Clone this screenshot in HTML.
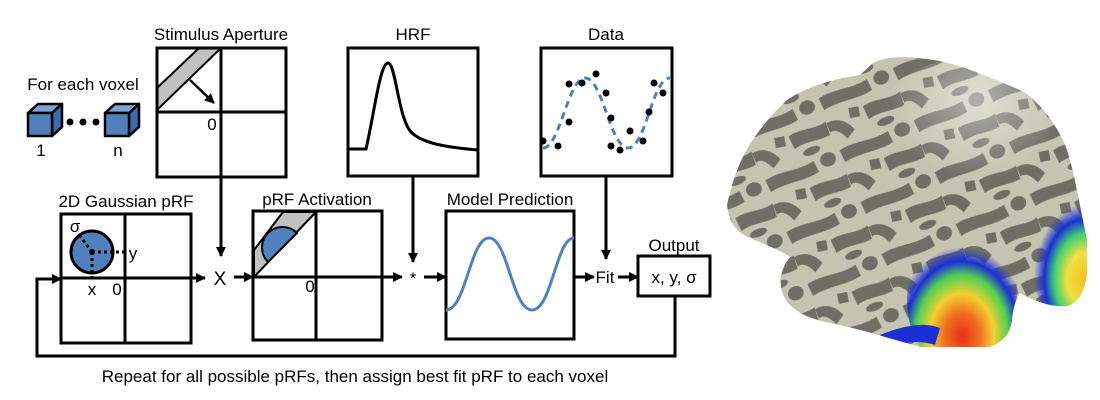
<!DOCTYPE html>
<html><head><meta charset="utf-8"><style>
html,body{margin:0;padding:0;background:#fff;}
svg{display:block;}
text{font-family:"Liberation Sans",sans-serif;fill:#000;}
</style></head><body>
<svg width="1100" height="400" viewBox="0 0 1100 400" xmlns="http://www.w3.org/2000/svg">
<defs>
<marker id="ah" markerWidth="10" markerHeight="10" refX="9" refY="5" orient="auto" markerUnits="userSpaceOnUse">
<path d="M0,0 L10,5 L0,10 z" fill="#000"/></marker>
<radialGradient id="hot" cx="0.5" cy="0.75" r="0.65">
<stop offset="0" stop-color="#e83018"/><stop offset="0.25" stop-color="#f07020"/><stop offset="0.45" stop-color="#f2d030"/><stop offset="0.65" stop-color="#50d050"/><stop offset="0.8" stop-color="#1a2fd8"/><stop offset="0.95" stop-color="#1a2fd8" stop-opacity="0"/></radialGradient>
<radialGradient id="hot2" cx="0.65" cy="0.65" r="0.6">
<stop offset="0" stop-color="#f5c020"/><stop offset="0.35" stop-color="#f0e040"/><stop offset="0.6" stop-color="#40d070"/><stop offset="0.8" stop-color="#1a2fd8"/><stop offset="1" stop-color="#1a2fd8" stop-opacity="0"/></radialGradient>
<pattern id="sulci" width="80" height="56" patternUnits="userSpaceOnUse" patternTransform="rotate(-22)">
<rect width="80" height="56" fill="#c4c4b0"/>
<path d="M2,6 C20,2 36,10 54,6 L55,18 C38,22 20,15 3,19Z" fill="#6f6f66"/>
<path d="M40,30 C54,26 68,34 80,30 L79,44 C66,46 54,40 41,44Z" fill="#6f6f66"/>
<path d="M0,32 C10,30 20,36 24,48 L14,54 C10,44 5,40 0,42Z" fill="#6f6f66"/>
<ellipse cx="68" cy="10" rx="8" ry="7" fill="#6f6f66"/>
<path d="M26,26 L36,28 L34,38 L24,36Z" fill="#6f6f66"/>
<ellipse cx="56" cy="52" rx="9" ry="4" fill="#6f6f66"/>
</pattern>
<radialGradient id="shine" cx="0.6" cy="0.25" r="0.5">
<stop offset="0" stop-color="#ffffff" stop-opacity="0.45"/><stop offset="1" stop-color="#ffffff" stop-opacity="0"/></radialGradient>
<clipPath id="brain"><path d="M727,205 C735,170 745,140 787,100 C805,88 827,80 860,75 L873,63 C885,57 900,55 933,60 C955,63 980,73 1020,90 C1040,100 1060,130 1067,150 C1075,175 1080,207 1087,240 L1087,273 C1085,290 1080,300 1070,305 C1060,308 1040,305 1020,293 C1015,300 1013,310 1012,320 C1010,335 1000,345 987,347 L920,347 C895,340 870,332 840,325 C815,320 803,317 790,305 C778,293 777,273 790,257 C780,250 770,247 755,240 C735,233 729,222 727,205 Z"/></clipPath>
</defs>

<g stroke="#000" stroke-width="3" fill="none">
<polygon points="157,88 199,48 221,48 157,110" fill="#c0c0c0" stroke="#000" stroke-width="2"/>
<rect x="157" y="48" width="129" height="129"/>
<line x1="221" y1="48" x2="221" y2="177"/><line x1="157" y1="112" x2="286" y2="112"/>
<rect x="348" y="48" width="130" height="128"/>
<path d="M348,149 L366,149 C374,115 380,63 388,63 C396,63 398,120 412,133 C425,145 455,148 478,150"/>
<rect x="541" y="48" width="131" height="128"/>
<rect x="61" y="214" width="130" height="129"/>
<line x1="125" y1="214" x2="125" y2="343"/>
<polygon points="254,250 283,212 316,212 254,277" fill="#c0c0c0" stroke="#000" stroke-width="2"/>
<path d="M268,262 A20.5,20.5 0 0 1 297,233 Z" fill="#4f81bd" stroke="#000" stroke-width="2"/>
<rect x="253" y="211" width="129" height="129"/>
<line x1="316" y1="211" x2="316" y2="340"/>
<rect x="446" y="211" width="128" height="128"/>
<rect x="638" y="256" width="72" height="40"/>
</g>
<path d="M543,148 C560,148 568,78 585,78 C603,78 610,148 628,148 C646,148 652,78 670,78" stroke="#4f81bd" stroke-width="3" fill="none" stroke-dasharray="7,5"/>
<g fill="#000">
<circle cx="543" cy="141" r="3.5"/><circle cx="558" cy="146" r="3.5"/><circle cx="569" cy="84" r="3.5"/><circle cx="582" cy="83" r="3.5"/><circle cx="596" cy="74" r="3.5"/><circle cx="606" cy="93" r="3.5"/><circle cx="611" cy="118" r="3.5"/><circle cx="569" cy="122" r="3.5"/><circle cx="611" cy="146" r="3.5"/><circle cx="620" cy="150" r="3.5"/><circle cx="630" cy="131" r="3.5"/><circle cx="643" cy="141" r="3.5"/><circle cx="649" cy="112" r="3.5"/><circle cx="654" cy="83" r="3.5"/><circle cx="663" cy="93" r="3.5"/>
</g>
<path d="M446,310 C466,310 470,238 489,238 C508,238 512,310 532,310 C552,310 556,238 574,238" stroke="#4f81bd" stroke-width="3" fill="none"/>
<circle cx="92" cy="252" r="21" fill="#4f81bd" stroke="#000" stroke-width="3"/>
<g stroke="#000" stroke-width="3" stroke-dasharray="3,3" fill="none">
<line x1="92" y1="252" x2="127" y2="252"/><line x1="92" y1="252" x2="92" y2="280"/><line x1="92" y1="252" x2="80" y2="236"/>
</g>
<circle cx="92" cy="252" r="3" fill="#000"/>
<g stroke="#000" stroke-width="3" fill="none">
<line x1="190" y1="80" x2="214" y2="103" marker-end="url(#ah)" stroke-width="2.5"/>
<line x1="61" y1="278" x2="205" y2="278" marker-end="url(#ah)"/>
<line x1="221" y1="177" x2="221" y2="256" marker-end="url(#ah)"/>
<line x1="234" y1="277" x2="253" y2="277" marker-end="url(#ah)"/>
<line x1="253" y1="277" x2="402" y2="277" marker-end="url(#ah)"/>
<line x1="413" y1="176" x2="413" y2="262" marker-end="url(#ah)"/>
<line x1="424" y1="277" x2="446" y2="277" marker-end="url(#ah)"/>
<line x1="574" y1="277" x2="594" y2="277" marker-end="url(#ah)"/>
<line x1="618" y1="277" x2="638" y2="277" marker-end="url(#ah)"/>
<line x1="606" y1="176" x2="606" y2="259" marker-end="url(#ah)"/>
<polyline points="675,296 675,356 37,356 37,279 61,279" marker-end="url(#ah)"/>
</g>
<g stroke="#000" stroke-width="2.5" stroke-linejoin="round">
<polygon points="28,113 38,104 62,104 52,113" fill="#7ba3d8"/><polygon points="52,113 62,104 62,127 52,136" fill="#3d6aa8"/><rect x="28" y="113" width="24" height="23" fill="#4f81bd"/>
<polygon points="105,113 115,104 139,104 129,113" fill="#7ba3d8"/><polygon points="129,113 139,104 139,127 129,136" fill="#3d6aa8"/><rect x="105" y="113" width="24" height="23" fill="#4f81bd"/>
</g>
<circle cx="70" cy="122" r="3.5"/><circle cx="83" cy="122" r="3.5"/><circle cx="96" cy="122" r="3.5"/>
<g font-size="17" text-anchor="middle">
<text x="83" y="90">For each voxel</text>
<text x="41" y="156">1</text><text x="118" y="156">n</text>
<text x="221" y="40">Stimulus Aperture</text>
<text x="413" y="40">HRF</text>
<text x="606" y="40">Data</text>
<text x="212" y="130">0</text>
<text x="126" y="207">2D Gaussian pRF</text>
<text x="317" y="205">pRF Activation</text>
<text x="510" y="205">Model Prediction</text>
<text x="674" y="251">Output</text>
<text x="674" y="283">x, y, σ</text>
<text x="605" y="283">Fit</text>
<text x="413" y="284">*</text>
<text x="220" y="285" font-size="19">X</text>
<text x="75" y="232">σ</text>
<text x="133" y="259">y</text>
<text x="92" y="295">x</text>
<text x="117" y="295">0</text>
<text x="310" y="292">0</text>
<text x="355" y="382">Repeat for all possible pRFs, then assign best fit pRF to each voxel</text>
</g>
<g clip-path="url(#brain)">
<rect x="720" y="50" width="380" height="300" fill="url(#sulci)"/>
<ellipse cx="960" cy="140" rx="90" ry="80" fill="url(#shine)"/>
<ellipse cx="962" cy="300" rx="55" ry="72" fill="url(#hot)"/>
<ellipse cx="1072" cy="260" rx="42" ry="62" fill="url(#hot2)"/>
<path d="M880,335 C905,325 925,322 940,328 L935,345 C920,340 900,342 885,348Z" fill="#1a2fd8"/>
</g>
</svg>
</body></html>
